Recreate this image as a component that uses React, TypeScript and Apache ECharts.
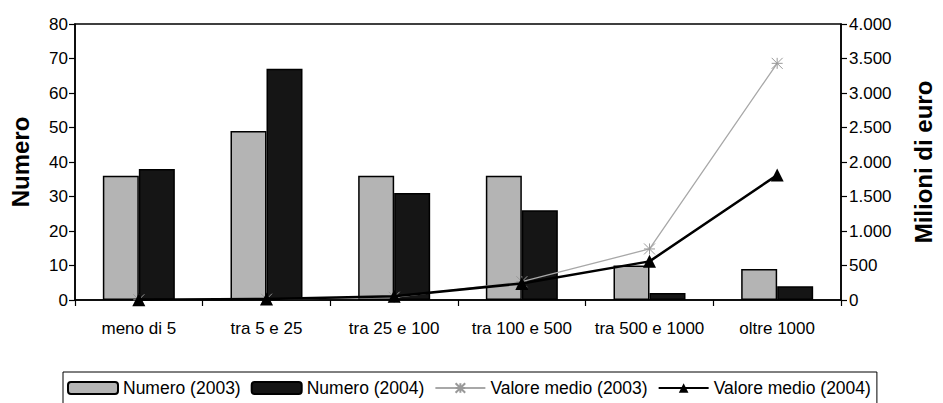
import React, { useEffect, useRef } from "react";
import * as echarts from "echarts";

const categories = ["meno di 5", "tra 5 e 25", "tra 25 e 100", "tra 100 e 500", "tra 500 e 1000", "oltre 1000"];
const numero2003 = [36, 49, 36, 36, 10, 9];
const numero2004 = [38, 67, 31, 26, 2, 4];
const valore2003 = [3, 12, 40, 265, 740, 3430];
const valore2004 = [5, 15, 55, 240, 560, 1810];
const leftTicks = { min: 0, max: 80, interval: 10 };
const rightTicks = { min: 0, max: 4000, interval: 500 };

const FONT = 'Arial, "Liberation Sans", sans-serif';

function fmtIt(v: number): string {
  const s = String(Math.round(v));
  return s.replace(/\B(?=(\d{3})+(?!\d))/g, ".");
}

export default function App() {
  const ref = useRef<HTMLDivElement>(null);
  useEffect(() => {
    document.body.style.margin = "0";
    if (!ref.current) return;
    const chart = echarts.init(ref.current, undefined, { renderer: "svg" });
    const axisLine = { show: true, lineStyle: { color: "#000", width: 1.5 } };
    const axisTick = { show: true, length: 6, lineStyle: { color: "#000", width: 1.2 } };
    const labelStyle = { color: "#000", fontSize: 17, fontFamily: FONT };
    chart.setOption({
      animation: false,
      backgroundColor: "#fff",
      grid: {
        left: 75,
        right: 88,
        top: 24,
        bottom: 103,
        show: true,
        borderColor: "#000",
        borderWidth: 1.5,
        containLabel: false,
      },
      legend: {
        left: 63,
        top: 372,
        padding: [7, 6, 7, 4],
        itemGap: 10,
        itemWidth: 50,
        itemHeight: 12,
        borderColor: "#000",
        borderWidth: 1,
        textStyle: { color: "#000", fontSize: 17.5, fontFamily: FONT },
        data: ["Numero (2003)", "Numero (2004)", "Valore medio (2003)", "Valore medio (2004)"],
      },
      xAxis: {
        type: "category",
        data: categories,
        axisLine,
        axisTick: { ...axisTick, alignWithLabel: false, interval: 0 },
        axisLabel: { ...labelStyle, margin: 20, interval: 0, hideOverlap: false },
        splitLine: { show: false },
      },
      yAxis: [
        {
          type: "value",
          position: "left",
          min: leftTicks.min,
          max: leftTicks.max,
          interval: leftTicks.interval,
          name: "Numero",
          nameLocation: "middle",
          nameGap: 43,
          nameRotate: 90,
          nameTextStyle: { color: "#000", fontSize: 24, fontWeight: "bold", fontFamily: FONT },
          axisLine,
          axisTick,
          axisLabel: { ...labelStyle, margin: 7 },
          splitLine: { show: false },
        },
        {
          type: "value",
          position: "right",
          min: rightTicks.min,
          max: rightTicks.max,
          interval: rightTicks.interval,
          name: "Milioni di euro",
          nameLocation: "middle",
          nameGap: 70,
          nameRotate: 90,
          nameTextStyle: { color: "#000", fontSize: 24, fontWeight: "bold", fontFamily: FONT },
          axisLine,
          axisTick,
          axisLabel: { ...labelStyle, margin: 8, formatter: (v: number) => fmtIt(v) },
          splitLine: { show: false },
        },
      ],
      series: [
        {
          name: "Numero (2003)",
          type: "bar",
          yAxisIndex: 0,
          data: numero2003,
          barWidth: 36,
          barGap: "0%",
          itemStyle: { color: "#b4b4b4", borderColor: "#000", borderWidth: 1.5 },
        },
        {
          name: "Numero (2004)",
          type: "bar",
          yAxisIndex: 0,
          data: numero2004,
          barWidth: 36,
          barGap: "0%",
          itemStyle: { color: "#151515", borderColor: "#000", borderWidth: 1.5 },
        },
        {
          name: "Valore medio (2003)",
          type: "line",
          yAxisIndex: 1,
          data: valore2003,
          symbol: "path://M0,0L10,10M10,0L0,10M5,0L5,10M0,5L10,5",
          symbolSize: 11,
          lineStyle: { color: "#a8a8a8", width: 1.3 },
          itemStyle: { color: "#bbbbbb", borderColor: "#999999", borderWidth: 1 },
          z: 3,
        },
        {
          name: "Valore medio (2004)",
          type: "line",
          yAxisIndex: 1,
          data: valore2004,
          symbol: "triangle",
          symbolSize: 13,
          lineStyle: { color: "#000", width: 2.5 },
          itemStyle: { color: "#000" },
          z: 4,
        },
      ],
    });
    return () => chart.dispose();
  }, []);
  return <div ref={ref} style={{ width: 943, height: 403 }} />;
}
